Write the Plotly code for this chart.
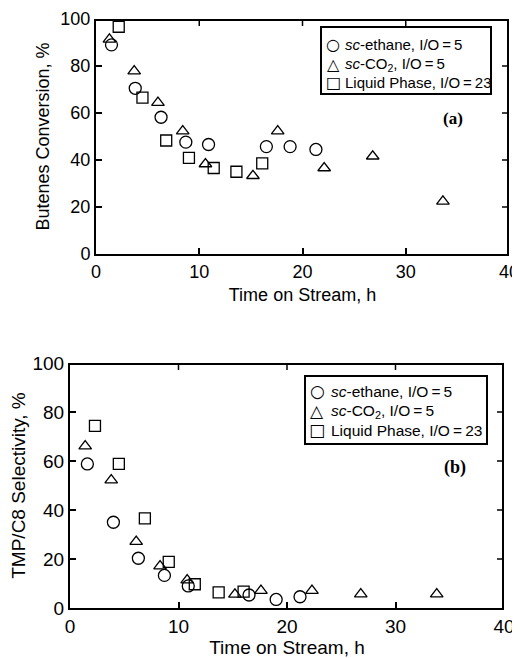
import plotly.graph_objects as go

# page body has an 8px margin; the figure sits at (8, 8) in the 520x658 window
OFF = 8
W, H = 520 - OFF, 658 - OFF
ML, MR, MT, MB = 10, 4, 4, 4
PW, PH = W - ML - MR, H - MT - MB

# ---------- Panel (a): Butenes conversion ----------
a_eth_t = [1.5, 3.8, 6.3, 8.7, 10.9, 16.5, 18.8, 21.3]
a_eth_v = [89.0, 70.5, 58.2, 47.6, 46.6, 45.7, 45.7, 44.5]
a_co2_t = [1.3, 3.7, 6.0, 8.4, 10.6, 15.2, 17.6, 22.1, 26.8, 33.6]
a_co2_v = [91.3, 77.8, 64.4, 52.3, 38.3, 33.3, 52.3, 36.6, 41.6, 22.4]
a_liq_t = [2.2, 4.5, 6.8, 9.0, 11.4, 13.6, 16.1]
a_liq_v = [96.7, 66.5, 48.3, 40.9, 36.6, 35.0, 38.6]

# ---------- Panel (b): TMP/C8 selectivity ----------
b_eth_t = [1.6, 4.0, 6.3, 8.7, 10.9, 16.5, 19.0, 21.2]
b_eth_v = [58.8, 35.0, 20.3, 13.3, 9.0, 5.3, 3.5, 4.6]
b_co2_t = [1.4, 3.8, 6.1, 8.3, 10.8, 15.2, 17.6, 22.3, 26.8, 33.8]
b_co2_v = [66.1, 52.2, 27.1, 17.1, 11.4, 5.6, 7.1, 7.1, 5.7, 5.7]
b_liq_t = [2.3, 4.5, 6.9, 9.1, 11.5, 13.7, 16.0]
b_liq_v = [74.3, 58.8, 36.6, 18.8, 9.7, 6.4, 6.7]

# axis ranges and tick values
X_RANGE = [0, 40]
Y_RANGE = [0, 100]
x_ticks = [0, 10, 20, 30, 40]
y_ticks = [0, 20, 40, 60, 80, 100]

series_names = ["<i>sc</i>-ethane, I/O\u2009=\u20095",
                "<i>sc</i>-CO<sub>2</sub>, I/O\u2009=\u20095",
                "Liquid Phase, I/O\u2009=\u200923"]
legend_glyphs = ["\u25cb", "\u25b3", "\u25a1"]
symbols = ["circle-open", "triangle-up-open", "square-open"]
sizes = [12, 11, 11]

FONT = "Liberation Sans, Arial, sans-serif"
SERIF = "Liberation Serif, Times New Roman, serif"


def fx(x):
    return (x - OFF - ML) / PW


def fy(y):
    return 1 - (y - OFF - MT) / PH


# plot-area boxes (window pixels: left, top, right, bottom)
BOX_A = (96, 19, 509, 254)
BOX_B = (70, 363, 504, 608)

fig = go.Figure()

panel_a = [(a_eth_t, a_eth_v), (a_co2_t, a_co2_v), (a_liq_t, a_liq_v)]
panel_b = [(b_eth_t, b_eth_v), (b_co2_t, b_co2_v), (b_liq_t, b_liq_v)]

for axes, data in ((("x", "y"), panel_a), (("x2", "y2"), panel_b)):
    for i, (t, v) in enumerate(data):
        fig.add_trace(go.Scatter(
            x=t, y=v, mode="markers", name=series_names[i],
            xaxis=axes[0], yaxis=axes[1], showlegend=False,
            marker=dict(symbol=symbols[i], size=sizes[i], color="black",
                        line=dict(color="black", width=1.3)),
            cliponaxis=False))


# top / right frame edges and their inside ticks, drawn on each panel's own axes
def frame_traces(xa, ya, box):
    l, t, r, b = box
    x_per_px = (X_RANGE[1] - X_RANGE[0]) / (r - l)
    y_per_px = (Y_RANGE[1] - Y_RANGE[0]) / (b - t)
    fig.add_trace(go.Scatter(
        x=[X_RANGE[0], X_RANGE[1], X_RANGE[1]], y=[Y_RANGE[1], Y_RANGE[1], Y_RANGE[0]],
        mode="lines", line=dict(color="black", width=4), xaxis=xa, yaxis=ya,
        showlegend=False, hoverinfo="skip"))
    tx, ty = [], []
    for v in x_ticks[1:-1]:
        tx += [v, v, None]
        ty += [Y_RANGE[1], Y_RANGE[1] - 7 * y_per_px, None]
    for v in y_ticks[1:-1]:
        tx += [X_RANGE[1], X_RANGE[1] - 7 * x_per_px, None]
        ty += [v, v, None]
    fig.add_trace(go.Scatter(
        x=tx, y=ty, mode="lines", line=dict(color="black", width=1.5),
        xaxis=xa, yaxis=ya, showlegend=False, hoverinfo="skip"))


frame_traces("x", "y", BOX_A)
frame_traces("x2", "y2", BOX_B)


def ax(domain, rng, ticks, title, fsize, standoff, anchor):
    return dict(
        domain=domain, range=rng, tickvals=ticks, anchor=anchor,
        showline=True, linecolor="black", linewidth=2, mirror=False,
        ticks="inside", ticklen=6, tickwidth=1.5, tickcolor="black",
        showgrid=False, zeroline=False, ticklabeloverflow="allow",
        tickfont=dict(family=FONT, size=fsize, color="black"),
        title=dict(text=title, font=dict(family=FONT, size=fsize, color="black"),
                   standoff=standoff),
        automargin=False,
    )


shapes = []
annotations = []


def add_legend(box, rows_y, sym_x, text_x, fsize, gsize):
    x0, y0, x1, y1 = box
    shapes.append(dict(type="rect", xref="paper", yref="paper",
                       x0=fx(x0), x1=fx(x1), y0=fy(y1), y1=fy(y0),
                       line=dict(color="black", width=2), fillcolor="white",
                       layer="above"))
    for i, ry in enumerate(rows_y):
        annotations.append(dict(text=legend_glyphs[i], x=fx(sym_x), y=fy(ry),
                                xref="paper", yref="paper", showarrow=False,
                                xanchor="center", yanchor="middle",
                                font=dict(family="DejaVu Sans", size=gsize, color="black")))
        annotations.append(dict(text=series_names[i], x=fx(text_x), y=fy(ry),
                                xref="paper", yref="paper", showarrow=False,
                                xanchor="left", yanchor="middle",
                                font=dict(family=FONT, size=fsize, color="black")))


add_legend((321, 27, 491, 94), [44, 64, 83], 333, 343, 15, 16)
add_legend((305, 376, 487, 444), [391, 411, 430], 317, 329, 15.5, 17)

annotations.append(dict(text="<b>(a)</b>", x=fx(453), y=fy(119), xref="paper", yref="paper",
                        xanchor="center", yanchor="middle",
                        showarrow=False, font=dict(family=SERIF, size=17, color="black")))
annotations.append(dict(text="<b>(b)</b>", x=fx(455), y=fy(467), xref="paper", yref="paper",
                        xanchor="center", yanchor="middle",
                        showarrow=False, font=dict(family=SERIF, size=18, color="black")))

fig.update_layout(
    width=W, height=H,
    margin=dict(l=ML, r=MR, t=MT, b=MB),
    paper_bgcolor="white", plot_bgcolor="white",
    font=dict(family=FONT, color="black"),
    xaxis=ax([fx(BOX_A[0]), fx(BOX_A[2])], X_RANGE, x_ticks, "Time on Stream, h", 18, 8, "y"),
    yaxis=ax([fy(BOX_A[3]), fy(BOX_A[1])], Y_RANGE, y_ticks, "Butenes Conversion, %", 18, 6, "x"),
    xaxis2=ax([fx(BOX_B[0]), fx(BOX_B[2])], X_RANGE, x_ticks, "Time on Stream, h", 19, 8, "y2"),
    yaxis2=ax([fy(BOX_B[3]), fy(BOX_B[1])], Y_RANGE, y_ticks, "TMP/C8 Selectivity, %", 19, 6, "x2"),
    showlegend=False,
    shapes=shapes,
    annotations=annotations,
)

fig.write_html("out.html")
